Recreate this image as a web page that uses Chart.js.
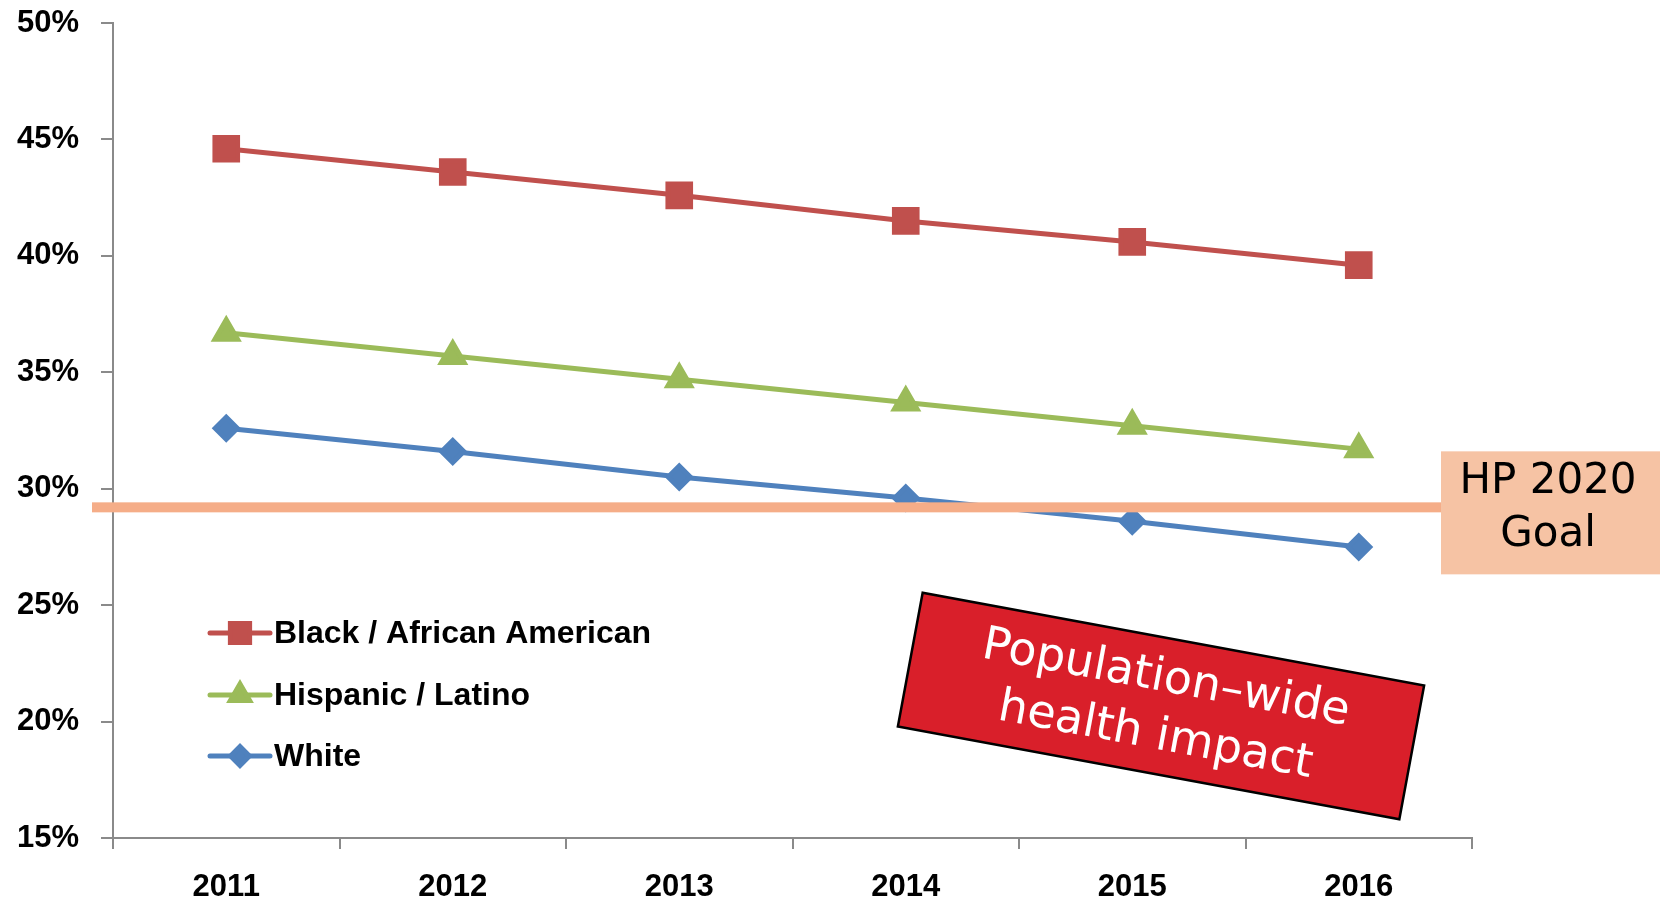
<!DOCTYPE html>
<html>
<head>
<meta charset="utf-8">
<title>Hypertension rates by race / ethnicity</title>
<script src="https://cdn.jsdelivr.net/npm/chart.js@4/dist/chart.umd.min.js"></script>
<style>
  html, body { margin: 0; padding: 0; background: #fff; }
  #wrap { width: 1660px; height: 900px; }
</style>
</head>
<body>
<div id="wrap"><canvas id="grafico" width="1660" height="900"></canvas></div>
<script>
// ===== dados =====
const years = ['2011', '2012', '2013', '2014', '2015', '2016'];
const seriesLabels = ['Black / African American', 'Hispanic / Latino', 'White'];
const blackRates = [44.6, 43.6, 42.6, 41.5, 40.6, 39.6];
const hispanicRates = [36.7, 35.7, 34.7, 33.7, 32.7, 31.7];
const whiteRates = [32.6, 31.6, 30.5, 29.6, 28.6, 27.5];
const yTicks = [15, 20, 25, 30, 35, 40, 45, 50];
const goalRate = 29.2;
const goalLabel = ['HP 2020', 'Goal'];
const impactLabel = ['Population\u2013wide', 'health impact'];

const tickFont = { family: 'Liberation Sans', weight: 'bold', size: 31 };
const axisGray = '#8a8a8a';

// legenda desenhada dentro da área do gráfico
const legendaInterna = {
  id: 'legendaInterna',
  afterDraw(chart) {
    const ctx = chart.ctx;
    const area = chart.chartArea;
    const rows = [633, 695, 756];
    chart.data.datasets.forEach((ds, i) => {
      const y = rows[i];
      const x0 = area.left + 97;
      ctx.save();
      ctx.strokeStyle = ds.borderColor;
      ctx.lineWidth = 5;
      ctx.lineCap = 'round';
      ctx.beginPath();
      ctx.moveTo(x0, y);
      ctx.lineTo(x0 + 60, y);
      ctx.stroke();
      ctx.fillStyle = ds.backgroundColor;
      ctx.strokeStyle = ds.borderColor;
      Chart.helpers.drawPoint(ctx, {
        pointStyle: ds.pointStyle,
        radius: ds.pointRadius * 0.85,
        rotation: 0,
        borderWidth: 1
      }, x0 + 30, y);
      ctx.fillStyle = '#000';
      ctx.font = 'bold 32px "Liberation Sans"';
      ctx.textAlign = 'left';
      ctx.textBaseline = 'middle';
      ctx.fillText(ds.label, x0 + 64, y + 1);
      ctx.restore();
    });
  }
};

// linha da meta HP 2020 e caixas de texto
const metaHP = {
  id: 'metaHP',
  afterDatasetsDraw(chart) {
    const ctx = chart.ctx;
    const area = chart.chartArea;
    const y = chart.scales.y.getPixelForValue(goalRate);
    const boxLeft = 1441;

    ctx.save();
    ctx.fillStyle = '#f5ad88';
    ctx.fillRect(area.left - 21, y - 5, boxLeft - (area.left - 21), 10);

    // caixa "HP 2020 Goal"
    ctx.fillStyle = '#f6c3a4';
    ctx.fillRect(boxLeft, y - 56, 1660 - boxLeft, 123);
    ctx.fillStyle = '#000';
    ctx.font = '42px "DejaVu Sans"';
    ctx.textAlign = 'center';
    ctx.textBaseline = 'middle';
    ctx.fillText(goalLabel[0], 1548, y - 25);
    ctx.fillText(goalLabel[1], 1548, y + 28);

    // caixa vermelha girada
    ctx.translate(1161, 706);
    ctx.rotate(10.5 * Math.PI / 180);
    ctx.fillStyle = '#d91f2a';
    ctx.fillRect(-255, -68, 510, 136);
    ctx.strokeStyle = '#000';
    ctx.lineWidth = 2.5;
    ctx.strokeRect(-255, -68, 510, 136);
    ctx.fillStyle = '#fff';
    ctx.font = '46px "DejaVu Sans"';
    ctx.fillText(impactLabel[0], 0, -27);
    ctx.fillText(impactLabel[1], 0, 31);
    ctx.restore();
  }
};

const ctx = document.getElementById('grafico').getContext('2d');
new Chart(ctx, {
  type: 'line',
  data: {
    labels: years,
    datasets: [
      {
        label: seriesLabels[0],
        data: blackRates,
        borderColor: '#c0504d',
        backgroundColor: '#c0504d',
        pointStyle: 'rect',
        pointRadius: 16,
        borderWidth: 5
      },
      {
        label: seriesLabels[1],
        data: hispanicRates,
        borderColor: '#9bbb59',
        backgroundColor: '#9bbb59',
        pointStyle: 'triangle',
        pointRadius: 13,
        borderWidth: 5
      },
      {
        label: seriesLabels[2],
        data: whiteRates,
        borderColor: '#4f81bd',
        backgroundColor: '#4f81bd',
        pointStyle: 'rectRot',
        pointRadius: 11,
        borderWidth: 5
      }
    ]
  },
  options: {
    responsive: false,
    animation: false,
    layout: { padding: { top: 23, right: 188, left: 0, bottom: 0 } },
    plugins: {
      legend: { display: false },
      tooltip: { enabled: false }
    },
    elements: {
      line: { tension: 0 },
      point: { borderWidth: 1, hoverRadius: 0 }
    },
    scales: {
      x: {
        offset: true,
        grid: {
          offset: true,
          drawOnChartArea: false,
          drawTicks: true,
          tickLength: 11,
          color: axisGray,
          lineWidth: 2
        },
        border: { display: true, color: axisGray, width: 2 },
        ticks: { color: '#000', font: tickFont, padding: 20, maxRotation: 0 },
        afterFit(scale) {
          scale.height = 62;
          scale.paddingLeft = 0;
          scale.paddingRight = 0;
        }
      },
      y: {
        min: 15,
        max: 50,
        afterBuildTicks(scale) { scale.ticks = yTicks.map(v => ({ value: v })); },
        grid: {
          drawOnChartArea: false,
          drawTicks: true,
          tickLength: 12,
          color: axisGray,
          lineWidth: 2
        },
        border: { display: true, color: axisGray, width: 2 },
        ticks: {
          color: '#000',
          font: tickFont,
          padding: 22,
          callback: v => v + '%'
        },
        afterFit(scale) {
          scale.width = 113;
          scale.paddingTop = 0;
          scale.paddingBottom = 0;
        }
      }
    }
  },
  plugins: [legendaInterna, metaHP]
});
</script>
</body>
</html>
